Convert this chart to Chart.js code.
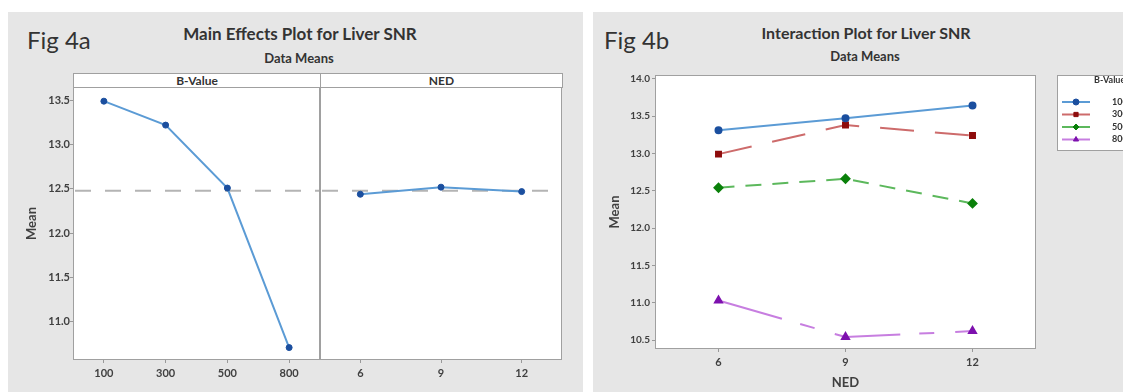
<!DOCTYPE html>
<html>
<head>
<meta charset="utf-8">
<script src="https://cdn.jsdelivr.net/npm/chart.js@4"></script>
<style>
body { margin:0; width:1123px; height:392px; background:#fff; position:relative; overflow:hidden; font-family:Lato, sans-serif; color:#333; }
.panel { position:absolute; top:12px; height:380px; background:#e6e6e6; }
.abs { position:absolute; line-height:1; white-space:nowrap; }
.fig { font-size:24px; color:#333; }
.title { font-weight:bold; transform:translateX(-50%); }
.sub { font-size:13px; font-weight:bold; transform:translateX(-50%); }
.strip { position:absolute; top:73px; height:15px; box-sizing:border-box; background:#fff; border:1px solid #a0a0a0;
         font-size:12px; font-weight:bold; text-align:center; line-height:13px; }
canvas { position:absolute; top:60px; }
</style>
</head>
<body>
<div class="panel" style="left:8px;width:575px"></div>
<div class="panel" style="left:593px;width:530px"></div>

<div class="abs fig" style="left:27px;top:28px">Fig 4a</div>
<div class="abs title" style="left:300px;top:25px;font-size:17px">Main Effects Plot for Liver SNR</div>
<div class="abs sub" style="left:299px;top:52px">Data Means</div>
<div class="strip" style="left:73px;width:248px">B-Value</div>
<div class="strip" style="left:320px;width:243px">NED</div>

<div class="abs fig" style="left:604px;top:28px">Fig 4b</div>
<div class="abs title" style="left:866px;top:25px;font-size:16px">Interaction Plot for Liver SNR</div>
<div class="abs sub" style="left:865px;top:50px">Data Means</div>

<canvas id="bvalChart" width="313" height="332" style="left:8px"></canvas>
<canvas id="nedChart" width="263" height="332" style="left:320px"></canvas>
<canvas id="interChart" width="530" height="332" style="left:593px"></canvas>

<script>
// main effects (Fig 4a)
const bValueLabels = ['100', '300', '500', '800'];
const bValueMeans = [13.49, 13.22, 12.51, 10.71];
const nedLabels = ['6', '9', '12'];
const nedMeans = [12.44, 12.52, 12.47];
const overallMean = 12.48;
const mainTicks = [11.0, 11.5, 12.0, 12.5, 13.0, 13.5];

// interaction (Fig 4b)
const interLabels = ['6', '9', '12'];
const snr100 = [13.31, 13.47, 13.64];
const snr300 = [12.99, 13.38, 13.24];
const snr500 = [12.54, 12.66, 12.33];
const snr800 = [11.03, 10.54, 10.62];
const interTicks = [10.5, 11.0, 11.5, 12.0, 12.5, 13.0, 13.5, 14.0];

Chart.defaults.animation = false;
Chart.defaults.font.family = 'Lato, sans-serif';
Chart.defaults.font.size = 11;
Chart.defaults.font.weight = 'bold';
Chart.defaults.color = '#404040';

const framePlugin = {
    id: 'frame',
    beforeDraw(chart) {
        const a = chart.chartArea;
        const ctx = chart.ctx;
        ctx.save();
        ctx.fillStyle = '#fff';
        ctx.fillRect(a.left, a.top, a.right - a.left, a.bottom - a.top);
        ctx.restore();
    },
    afterDraw(chart) {
        const a = chart.chartArea;
        const ctx = chart.ctx;
        ctx.save();
        ctx.strokeStyle = '#a0a0a0';
        ctx.lineWidth = 1;
        ctx.strokeRect(Math.round(a.left) + 0.5, Math.round(a.top) + 0.5,
            Math.round(a.right - a.left) - 1, Math.round(a.bottom - a.top) - 1);
        ctx.restore();
    }
};

// dashed reference line at the overall mean
const meanLine = {
    id: 'meanLine',
    beforeDatasetsDraw(chart, args, opts) {
        if (opts.value == null) return;
        const a = chart.chartArea;
        const y = chart.scales.y.getPixelForValue(opts.value);
        const ctx = chart.ctx;
        ctx.save();
        ctx.strokeStyle = '#b4b4b4';
        ctx.lineWidth = 2;
        ctx.setLineDash([16, 14]);
        ctx.beginPath();
        ctx.moveTo(a.left + 2, y);
        ctx.lineTo(a.right, y);
        ctx.stroke();
        ctx.restore();
    }
};

// boxed legend on the right of Fig 4b
const boxLegend = {
    id: 'boxLegend',
    afterDraw(chart) {
        const ctx = chart.ctx;
        ctx.save();
        ctx.fillStyle = '#fff';
        ctx.strokeStyle = '#a0a0a0';
        ctx.lineWidth = 1;
        ctx.fillRect(464, 15, 80, 75);
        ctx.strokeRect(464.5, 15.5, 80, 75);
        ctx.font = 'bold 9px Lato, sans-serif';
        ctx.textBaseline = 'middle';
        ctx.fillStyle = '#333';
        ctx.fillText('B-Value', 501, 20);
        chart.data.datasets.forEach((ds, i) => {
            const y = 42 + i * 12.5;
            ctx.setLineDash([]);
            ctx.strokeStyle = ds.borderColor;
            ctx.lineWidth = 2;
            ctx.beginPath();
            ctx.moveTo(469, y);
            ctx.lineTo(497, y);
            ctx.stroke();
            ctx.fillStyle = ds.pointBackgroundColor;
            ctx.strokeStyle = ds.pointBorderColor;
            ctx.lineWidth = 1;
            Chart.helpers.drawPoint(ctx, {pointStyle: ds.pointStyle, radius: 3, rotation: 0, borderWidth: 1}, 483, y);
            ctx.fillStyle = '#333';
            ctx.fillText(ds.label, 519, y);
        });
        ctx.restore();
    }
};

function xAxis(height) {
    return {
        type: 'category',
        offset: true,
        grid: { drawOnChartArea: false, drawTicks: true, tickLength: 3, color: '#999' },
        border: { display: false },
        ticks: { padding: 4, maxRotation: 0, autoSkip: false },
        afterFit: scale => { scale.height = height; }
    };
}

function mainDataset(values) {
    return {
        data: values,
        borderColor: '#5b9bd5',
        borderWidth: 2,
        pointBackgroundColor: '#1b4f9f',
        pointBorderColor: '#1b4f9f',
        pointRadius: 3,
        pointBorderWidth: 1,
        tension: 0
    };
}

new Chart(document.getElementById('bvalChart'), {
    type: 'line',
    data: { labels: bValueLabels, datasets: [mainDataset(bValueMeans)] },
    options: {
        responsive: false,
        layout: { autoPadding: false, padding: { top: 27, left: 12, right: 1, bottom: 0 } },
        plugins: { legend: { display: false }, tooltip: { enabled: false }, meanLine: { value: overallMean } },
        scales: {
            x: xAxis(32),
            y: {
                min: 10.57, max: 13.65,
                grid: { drawOnChartArea: false, drawTicks: true, tickLength: 3, color: '#999' },
                border: { display: false },
                ticks: { padding: 0, autoSkip: false, callback: v => v.toFixed(1) },
                afterBuildTicks: scale => { scale.ticks = mainTicks.map(v => ({ value: v })); },
                afterFit: scale => { scale.width = 53; },
                title: { display: true, text: 'Mean', font: { size: 13, weight: 'bold' }, padding: { top: 4, bottom: 0 } }
            }
        }
    },
    plugins: [framePlugin, meanLine]
});

new Chart(document.getElementById('nedChart'), {
    type: 'line',
    data: { labels: nedLabels, datasets: [mainDataset(nedMeans)] },
    options: {
        responsive: false,
        layout: { autoPadding: false, padding: { top: 27, left: 0, right: 21, bottom: 0 } },
        plugins: { legend: { display: false }, tooltip: { enabled: false }, meanLine: { value: overallMean } },
        scales: {
            x: xAxis(32),
            y: { display: false, min: 10.57, max: 13.65 }
        }
    },
    plugins: [framePlugin, meanLine]
});

new Chart(document.getElementById('interChart'), {
    type: 'line',
    data: {
        labels: interLabels,
        datasets: [
            { label: '100', data: snr100, borderColor: '#5b9bd5', pointBackgroundColor: '#1b4f9f', pointBorderColor: '#1b4f9f',
              pointStyle: 'circle', pointRadius: 3, borderWidth: 2, borderDash: [] },
            { label: '300', data: snr300, borderColor: '#cd6b6b', pointBackgroundColor: '#8e0c0c', pointBorderColor: '#8e0c0c',
              pointStyle: 'rect', pointRadius: 3.5, borderWidth: 2, borderDash: [34, 21] },
            { label: '500', data: snr500, borderColor: '#5cb85c', pointBackgroundColor: '#0a800a', pointBorderColor: '#0a800a',
              pointStyle: 'rectRot', pointRadius: 4, borderWidth: 2, borderDash: [16, 11] },
            { label: '800', data: snr800, borderColor: '#c77ee0', pointBackgroundColor: '#7d10ae', pointBorderColor: '#7d10ae',
              pointStyle: 'triangle', pointRadius: 4, borderWidth: 2, borderDash: [66, 19, 15, 21] }
        ]
    },
    options: {
        responsive: false,
        layout: { autoPadding: false, padding: { top: 15, left: 10, right: 87, bottom: 0 } },
        plugins: { legend: { display: false }, tooltip: { enabled: false } },
        elements: { line: { tension: 0 }, point: { borderWidth: 1 } },
        scales: {
            x: Object.assign(xAxis(43), {
                title: { display: true, text: 'NED', font: { size: 13, weight: 'bold' }, padding: { top: 0, bottom: 1 } }
            }),
            y: {
                min: 10.38, max: 14.05,
                grid: { drawOnChartArea: false, drawTicks: true, tickLength: 3, color: '#999' },
                border: { display: false },
                ticks: { padding: 2, autoSkip: false, font: { size: 10 }, callback: v => v.toFixed(1) },
                afterBuildTicks: scale => { scale.ticks = interTicks.map(v => ({ value: v })); },
                afterFit: scale => { scale.width = 52; },
                title: { display: true, text: 'Mean', font: { size: 13, weight: 'bold' }, padding: { top: 4, bottom: 0 } }
            }
        }
    },
    plugins: [framePlugin, boxLegend]
});
</script>
</body>
</html>
